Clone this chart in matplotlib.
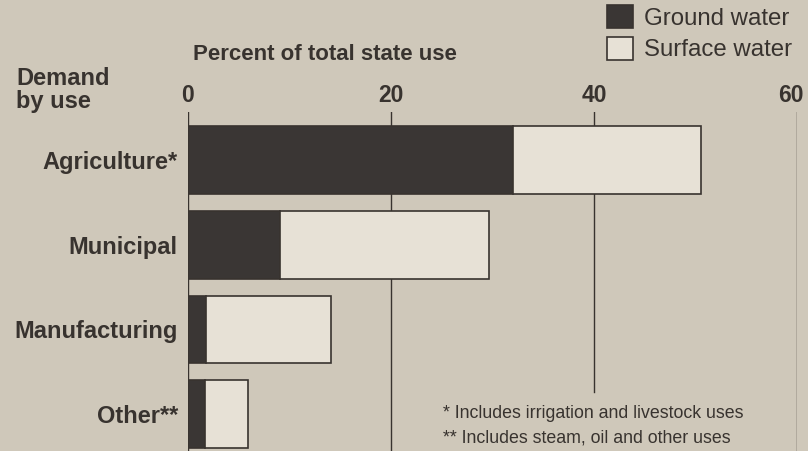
import numpy as np
import matplotlib
matplotlib.use("Agg")
from matplotlib import pyplot as plt

# water demand by use, percent of total state use
categories = ["Agriculture*", "Municipal", "Manufacturing", "Other**"]
ground_water = [32.0, 9.1, 1.8, 1.7]
surface_water = [18.5, 20.6, 12.3, 4.2]
ticks = [0, 20, 40, 60]
footnotes = ["* Includes irrigation and livestock uses",
             "** Includes steam, oil and other uses"]

paper = "#cfc8ba"
ink = "#38332f"
dark_fill = "#3a3634"
light_fill = "#e7e1d6"

plt.rcParams["font.family"] = ["Liberation Sans", "DejaVu Sans"]

fig = plt.figure(figsize=(8.08, 4.51), dpi=100)
fig.patch.set_facecolor(paper)

ax = fig.add_axes([188 / 808, 0, 609 / 808, 339 / 451])
ax.set_facecolor(paper)

ypos = np.arange(len(categories))
b1 = ax.barh(ypos, ground_water, height=0.8, color=dark_fill,
             edgecolor=ink, linewidth=1.2, zorder=3, label="Ground water")
b2 = ax.barh(ypos, surface_water, left=ground_water, height=0.8,
             color=light_fill, edgecolor=ink, linewidth=1.2, zorder=3,
             label="Surface water")

ax.set_xlim(0, 60)
ax.set_ylim(3.436, -0.567)

# vertical grid lines; the one at 40 stops above the footnotes
for t in ticks:
    ymin = 0.174 if t == 40 else 0
    ax.axvline(t, ymin=ymin, ymax=1, color=ink, lw=1.0, zorder=1)

for s in ax.spines.values():
    s.set_visible(False)
ax.set_xticks([])
ax.set_yticks([])

# tick labels above the plot area (last one nudged left to stay on the page)
for t in ticks:
    dx = -4.5 if t == ticks[-1] else 0
    ax.annotate(str(t), (t, -0.63), xytext=(dx, 0), textcoords="offset points",
                ha="center", va="bottom", fontsize=16.5, fontweight="bold",
                color=ink, annotation_clip=False)

for y, c in zip(ypos, categories):
    ax.text(-1.0, y + 0.03, c, ha="right", va="center", fontsize=17,
            fontweight="bold", color=ink)

fig.text(193 / 808, 1 - 55 / 451, "Percent of total state use", ha="left",
         va="center", fontsize=16, fontweight="bold", color=ink)
fig.text(16 / 808, 1 - 90 / 451, "Demand\nby use", ha="left", va="center",
         fontsize=17, fontweight="bold", color=ink, linespacing=1.0)

fig.text(443 / 808, 1 - 413 / 451, footnotes[0], ha="left", va="center",
         fontsize=12.8, color=ink)
fig.text(443 / 808, 1 - 438 / 451, footnotes[1], ha="left", va="center",
         fontsize=12.8, color=ink)

leg = fig.legend(handles=[b1, b2], loc="upper left",
                 bbox_to_anchor=(607 / 808, 1 - 5 / 451), frameon=False,
                 fontsize=17.3, handlelength=1.08, handleheight=1.08,
                 handletextpad=0.45, labelspacing=0.3, borderpad=0,
                 borderaxespad=0)
for txt in leg.get_texts():
    txt.set_color(ink)

fig.savefig("out.png", dpi=100, facecolor=paper)
